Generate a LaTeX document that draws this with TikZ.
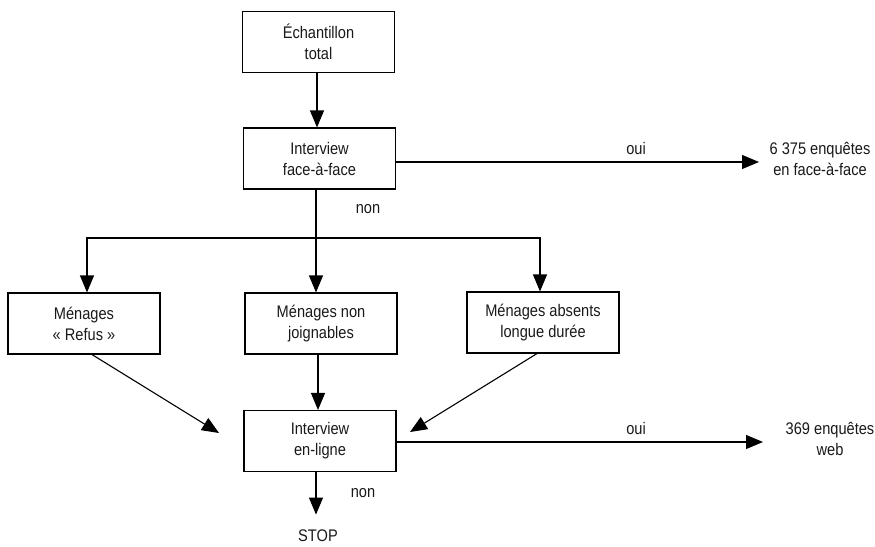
\documentclass[tikz,border=0pt]{standalone}
\usepackage{fontspec}
\setmainfont{Liberation Sans}[FakeStretch=0.87]
\usetikzlibrary{arrows.meta,calc}
\begin{document}
\begin{tikzpicture}[x=1pt,y=-1pt,
  every node/.style={font=\fontsize{16.8}{21}\selectfont, text=black!90},
  box/.style={draw, line width=1.1pt, minimum width=152pt, minimum height=61pt, align=center, inner sep=0pt},
  lbl/.style={inner sep=0pt, align=center},
  arr/.style={line width=1.1pt, -{Triangle[length=17pt,width=14pt]}}]
\useasboundingbox (0,0) rectangle (875,546);
\node[box] (b1) at (318.5,42) {Échantillon\\total};
\node[box] (b2) at (319.5,158.5) {Interview\\face-à-face};
\node[box] (refus) at (84,323.5) {Ménages\\« Refus »};
\node[box] (nonj) at (321,323.5) {Ménages non\\joignables};
\node[box] (abs) at (543,322.5) {Ménages absents\\longue durée};
\node[box] (enl) at (320,441) {Interview\\en-ligne};
\node[lbl] (fa) at (820,159) {6 375 enquêtes\\en face-à-face};
\node[lbl] (web) at (830,438.5) {369 enquêtes\\web};
\node[lbl] (oui1) at (636,148) {oui};
\node[lbl] (oui2) at (636,428) {oui};
\node[lbl] (non1) at (368,209) {non};
\node[lbl] (non2) at (363,493) {non};
\node[inner sep=0pt, anchor=base] (stop) at (318,541.5) {STOP};
\coordinate (br) at (316,238);
\coordinate (le) at (219,433);
\coordinate (re) at (410,432);
\coordinate (fae) at (759,162);
\coordinate (webe) at (763,442);
\draw[arr] (b1.south -| 317,0) -- (b2.north -| 317,0);
\draw[arr] (b2.south -| br) -- (nonj.north -| br);
\draw[arr] (br) -| (refus.north -| 87,0);
\draw[arr] (br) -| (abs.north -| 540,0);
\draw[arr] (b2.east |- fae) -- (fae);
\draw[arr] (nonj.south -| 318,0) -- (enl.north -| 318,0);
\draw[arr] ($(refus.south)+(8,0)$) -- (le);
\draw[arr] ($(abs.south)+(-6,0)$) -- (re);
\draw[arr] (enl.east |- webe) -- (webe);
\draw[arr] (enl.south -| 316,0) -- ($(stop.north)+(-2,-15)$);
\end{tikzpicture}
\end{document}
